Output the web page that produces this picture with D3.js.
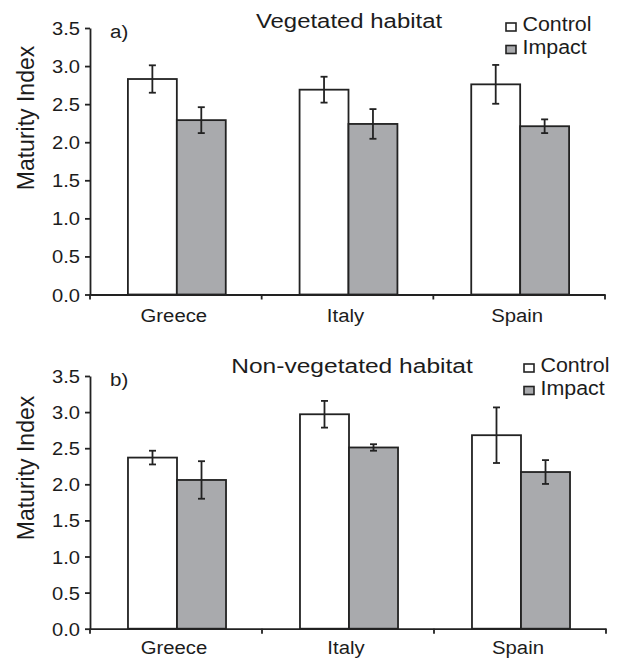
<!DOCTYPE html>
<html>
<head>
<meta charset="utf-8">
<script src="https://cdn.jsdelivr.net/npm/d3@7"></script>
<style>
  html, body { margin: 0; padding: 0; background: #fff; }
  svg { display: block; }
  text { font-family: "Liberation Sans", Arial, Helvetica, sans-serif; fill: #1c1c1c; }
</style>
</head>
<body>
<svg id="chart" width="619" height="658"></svg>
<script>
// ---- data ----
const categories = ["Greece", "Italy", "Spain"];
const seriesNames = ["Control", "Impact"];
const yTicks = [0, 0.5, 1.0, 1.5, 2.0, 2.5, 3.0, 3.5];

// panel a) Vegetated habitat
const vegControl = [2.83, 2.69, 2.76];
const vegControlErr = [0.18, 0.17, 0.255];
const vegImpact = [2.29, 2.24, 2.21];
const vegImpactErr = [0.17, 0.195, 0.09];

// panel b) Non-vegetated habitat
const nonControl = [2.37, 2.97, 2.68];
const nonControlErr = [0.095, 0.185, 0.385];
const nonImpact = [2.06, 2.51, 2.17];
const nonImpactErr = [0.26, 0.045, 0.165];

const panels = [
  { label: "a)", title: "Vegetated habitat", control: vegControl, controlErr: vegControlErr,
    impact: vegImpact, impactErr: vegImpactErr,
    left: 90, right: 605, top: 28, bottom: 294.5,
    titleX: 349, titleY: 28, labelY: 37.5, xLabelY: 322, yLabelY: 118,
    legX: 506, legY: 23, titleSx: 1.14 },
  { label: "b)", title: "Non-vegetated habitat", control: nonControl, controlErr: nonControlErr,
    impact: nonImpact, impactErr: nonImpactErr,
    left: 90, right: 606, top: 376, bottom: 628.7,
    titleX: 352, titleY: 372.5, labelY: 386, xLabelY: 653.5, yLabelY: 468,
    legX: 524, legY: 364, titleSx: 1.17 }
];

const ink = "#222";
const grey = "#a9aaad";
const fills = { Control: "#ffffff", Impact: grey };

const svg = d3.select("#chart");

function stretchedText(g, x, y, str, fs, sx, anchor) {
  return g.append("text")
    .attr("transform", `translate(${x},${y}) scale(${sx},1)`)
    .attr("text-anchor", anchor || "start")
    .style("font-size", fs + "px")
    .text(str);
}

panels.forEach(p => {
  const g = svg.append("g");
  const x = d3.scaleBand().domain(categories).range([p.left, p.right]).padding(0);
  const y = d3.scaleLinear().domain([0, 3.5]).range([p.bottom, p.top]);
  const pairW = x.step() * 0.57;
  const x1 = d3.scaleBand().domain(seriesNames).range([0, pairW]).padding(0);

  const rows = categories.map((c, i) => ({
    cat: c,
    vals: [
      { s: "Control", v: p.control[i], e: p.controlErr[i] },
      { s: "Impact", v: p.impact[i], e: p.impactErr[i] }
    ]
  }));

  // bars
  const grp = g.selectAll("g.cat").data(rows).join("g")
    .attr("transform", d => `translate(${x(d.cat) + x.bandwidth() / 2 - pairW / 2 + 1},0)`);
  grp.selectAll("rect").data(d => d.vals).join("rect")
    .attr("x", d => x1(d.s))
    .attr("y", d => y(d.v))
    .attr("width", x1.bandwidth())
    .attr("height", d => y(0) - y(d.v))
    .attr("fill", d => fills[d.s])
    .attr("stroke", ink)
    .attr("stroke-width", 1.8);

  // error bars
  const eb = grp.selectAll("g.err").data(d => d.vals).join("g")
    .attr("stroke", ink).attr("stroke-width", 1.8);
  eb.append("line")
    .attr("x1", d => x1(d.s) + x1.bandwidth() / 2)
    .attr("x2", d => x1(d.s) + x1.bandwidth() / 2)
    .attr("y1", d => y(d.v + d.e)).attr("y2", d => y(d.v - d.e));
  [1, -1].forEach(sgn => {
    eb.append("line")
      .attr("x1", d => x1(d.s) + x1.bandwidth() / 2 - 3.5)
      .attr("x2", d => x1(d.s) + x1.bandwidth() / 2 + 3.5)
      .attr("y1", d => y(d.v + sgn * d.e)).attr("y2", d => y(d.v + sgn * d.e));
  });

  // y axis
  const sxTick = 1.12;
  const yAxis = g.append("g").attr("transform", `translate(${p.left},0)`)
    .call(d3.axisLeft(y).tickValues(yTicks).tickFormat(d3.format(".1f")).tickSize(5).tickSizeOuter(0).tickPadding(5));
  yAxis.select(".domain").attr("stroke", ink).attr("stroke-width", 1.8);
  yAxis.selectAll(".tick line").attr("stroke", ink).attr("stroke-width", 1.8);
  yAxis.selectAll(".tick text")
    .attr("x", null).attr("dy", null)
    .attr("transform", `translate(-10,6.5) scale(${sxTick},1)`)
    .style("font-size", "18px").style("font-family", "Liberation Sans, Arial, sans-serif")
    .attr("fill", "#1c1c1c");

  // x axis (line + boundary ticks)
  const xAxis = g.append("g").attr("transform", `translate(0,${p.bottom})`)
    .call(d3.axisBottom(x).tickSize(0).tickPadding(0).tickFormat(""));
  xAxis.select(".domain").attr("stroke", ink).attr("stroke-width", 1.8);
  const bounds = d3.range(categories.length + 1).map(i => x.range()[0] + i * x.step());
  xAxis.selectAll("line.bound").data(bounds).join("line").attr("class", "bound")
    .attr("x1", d => d).attr("x2", d => d).attr("y1", 0).attr("y2", 5)
    .attr("stroke", ink).attr("stroke-width", 1.8);

  // x labels
  categories.forEach(c => {
    stretchedText(g, x(c) + x.bandwidth() / 2 - 2, p.xLabelY, c, 19, 1.07, "middle");
  });

  // y label
  g.append("text")
    .attr("transform", `translate(34,${p.yLabelY}) rotate(-90)`)
    .attr("text-anchor", "middle")
    .style("font-size", "23px")
    .text("Maturity Index");

  // title and panel label
  stretchedText(g, p.titleX, p.titleY, p.title, 21, p.titleSx, "middle");
  stretchedText(g, 110, p.labelY, p.label, 19, 1.08, "start");

  // legend
  seriesNames.forEach((s, i) => {
    const by = p.legY + i * 22.5;
    g.append("rect").attr("x", p.legX).attr("y", by).attr("width", 10).attr("height", 8)
      .attr("fill", fills[s]).attr("stroke", ink).attr("stroke-width", 1.6);
    stretchedText(g, p.legX + 16.5, by + 8, s, 20, 1.07, "start");
  });
});
</script>
</body>
</html>
